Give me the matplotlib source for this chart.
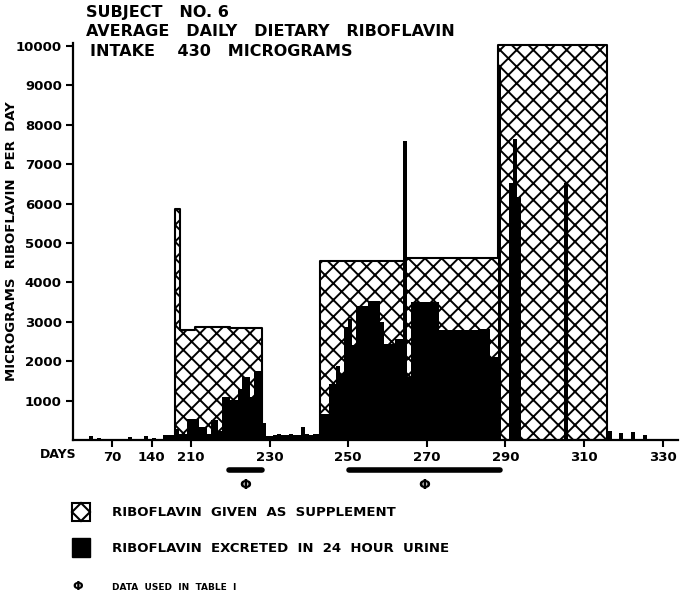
import matplotlib
matplotlib.use("Agg")
import matplotlib.pyplot as plt
from matplotlib.patches import Rectangle, Polygon
from matplotlib.transforms import blended_transform_factory

plt.rcParams['font.family'] = ['DejaVu Sans']
plt.rcParams['font.weight'] = 'bold'
plt.rcParams['hatch.linewidth'] = 1.4

## 補給量（斜線の箱）: 区間の端と高さ（横軸の位置の日）
supp_edges = [205.9, 207.2, 211.0, 219.9, 228.1, 242.8, 264.5, 288.1, 315.9]
supp_heights = [5870, 2800, 2880, 2850, 0, 4550, 4630, 10030]

## 24時間尿中排泄量（黒棒）
excr_days = [184, 186, 190, 194, 198, 200, 203, 204, 205,
             206, 207, 208, 209, 210, 211, 212, 213, 214, 215,
             216, 217, 218, 219, 220, 221, 222, 223, 224, 225,
             226, 227, 228, 229, 230, 231, 232, 233, 234, 235,
             236, 237, 238, 239, 240, 241, 242,
             243, 244, 245, 246, 247, 248, 249, 250, 251, 252,
             253, 254, 255, 256, 257, 258, 259, 260, 261, 262,
             263, 264, 265, 266, 267, 268, 269, 270, 271, 272,
             273, 274, 275, 276, 277, 278, 279, 280, 281, 282,
             283, 284, 285, 286, 287, 288, 291, 292, 293, 305,
             316, 319, 322, 325]
excr_vals = [100, 60, 30, 70, 110, 60, 130, 130, 130,
             290, 160, 160, 540, 540, 540, 320, 320, 160, 520,
             520, 240, 1080, 1080, 1020, 1020, 1300, 1590, 1590, 1080,
             1760, 1760, 420, 110, 110, 130, 140, 120, 130, 150,
             120, 130, 320, 140, 130, 140, 140,
             660, 660, 1430, 1430, 1890, 1680, 2860, 3080, 2400, 3390,
             3390, 3390, 3540, 3540, 3540, 2990, 2440, 2440, 2440, 2570,
             2570, 7600, 1590, 3490, 3490, 3490, 3490, 3490, 3490, 3490,
             2780, 2780, 2780, 2780, 2780, 2780, 2780, 2780, 2780, 2780,
             2820, 2820, 2820, 2100, 2100, 9500, 6530, 7640, 6160, 6530,
             240, 170, 210, 130]

## 表Iに使ったデータの期間
table_ranges = [(219.7, 228.1), (250.2, 288.6)]

x_ticks = [190, 200, 210, 230, 250, 270, 290, 310, 330]
x_labels = ["70", "140", "210", "230", "250", "270", "290", "310", "330"]
y_ticks = [1000, 2000, 3000, 4000, 5000, 6000, 7000, 8000, 9000, 10000]

title_lines = ["SUBJECT   NO. 6",
               "AVERAGE   DAILY   DIETARY   RIBOFLAVIN",
               "INTAKE    430   MICROGRAMS"]

W, H = 680, 592
fig = plt.figure(figsize=(W / 100, H / 100), dpi=100)
ax = fig.add_axes([73 / W, 1 - 440 / H, 605 / W, 397 / H])

ax.fill_between(supp_edges, supp_heights + [supp_heights[-1]], step='post',
                facecolor='white', edgecolor='black', hatch='xx',
                linewidth=1.5, zorder=1)
ax.bar(excr_days, excr_vals, width=1.0, align='edge',
       color='black', linewidth=0, zorder=2)

ax.set_xlim(180, 333.9)
ax.set_ylim(0, 10076)
ax.set_xticks(x_ticks)
ax.set_xticklabels(x_labels)
ax.set_yticks(y_ticks)
ax.tick_params(direction='out', length=5, width=1.5, labelsize=9.5, pad=3)
for side in ('top', 'right'):
    ax.spines[side].set_visible(False)
for side in ('left', 'bottom'):
    ax.spines[side].set_linewidth(1.6)

## 表Iの範囲バーと記号
tr = blended_transform_factory(ax.transData, ax.transAxes)
for a, b in table_ranges:
    ax.plot([a, b], [-0.076, -0.076], color='black', lw=4,
            solid_capstyle='round', transform=tr, clip_on=False)
    ax.text((a + b) / 2, -0.113, "Φ", transform=tr, ha='center',
            va='center', fontsize=10)

def fpos(px, py):
    return px / W, 1 - py / H

for line, (px, py) in zip(title_lines, [(86, 13), (86, 31), (90, 51)]):
    fig.text(*fpos(px, py), line, ha='left', va='center', fontsize=11.5)

fig.text(*fpos(12, 241), "MICROGRAMS  RIBOFLAVIN  PER  DAY", rotation=90,
         ha='center', va='center', fontsize=9.5)
fig.text(*fpos(40, 455), "DAYS", ha='left', va='center', fontsize=9)

## 凡例
x0, y0 = fpos(72, 521)
w, h = 18 / W, 18 / H
fig.add_artist(Rectangle((x0, y0), w, h, transform=fig.transFigure,
                         facecolor='white', edgecolor='black', lw=1.5))
fig.add_artist(Polygon([(x0 + w / 2, y0), (x0 + w, y0 + h / 2),
                        (x0 + w / 2, y0 + h), (x0, y0 + h / 2)], closed=True,
                       transform=fig.transFigure, facecolor='none',
                       edgecolor='black', lw=1.5))
x1, y1 = fpos(72, 557)
fig.add_artist(Rectangle((x1, y1), w, 19 / H, transform=fig.transFigure,
                         facecolor='black', edgecolor='black', lw=1))
fig.text(*fpos(112, 512), "RIBOFLAVIN  GIVEN  AS  SUPPLEMENT",
         ha='left', va='center', fontsize=9.5)
fig.text(*fpos(112, 548), "RIBOFLAVIN  EXCRETED  IN  24  HOUR  URINE",
         ha='left', va='center', fontsize=9.5)
fig.text(*fpos(78, 587), "Φ", ha='center', va='center', fontsize=9)
fig.text(*fpos(112, 587), "DATA  USED  IN  TABLE  I",
         ha='left', va='center', fontsize=6.5)

fig.savefig("out.png", dpi=100)
